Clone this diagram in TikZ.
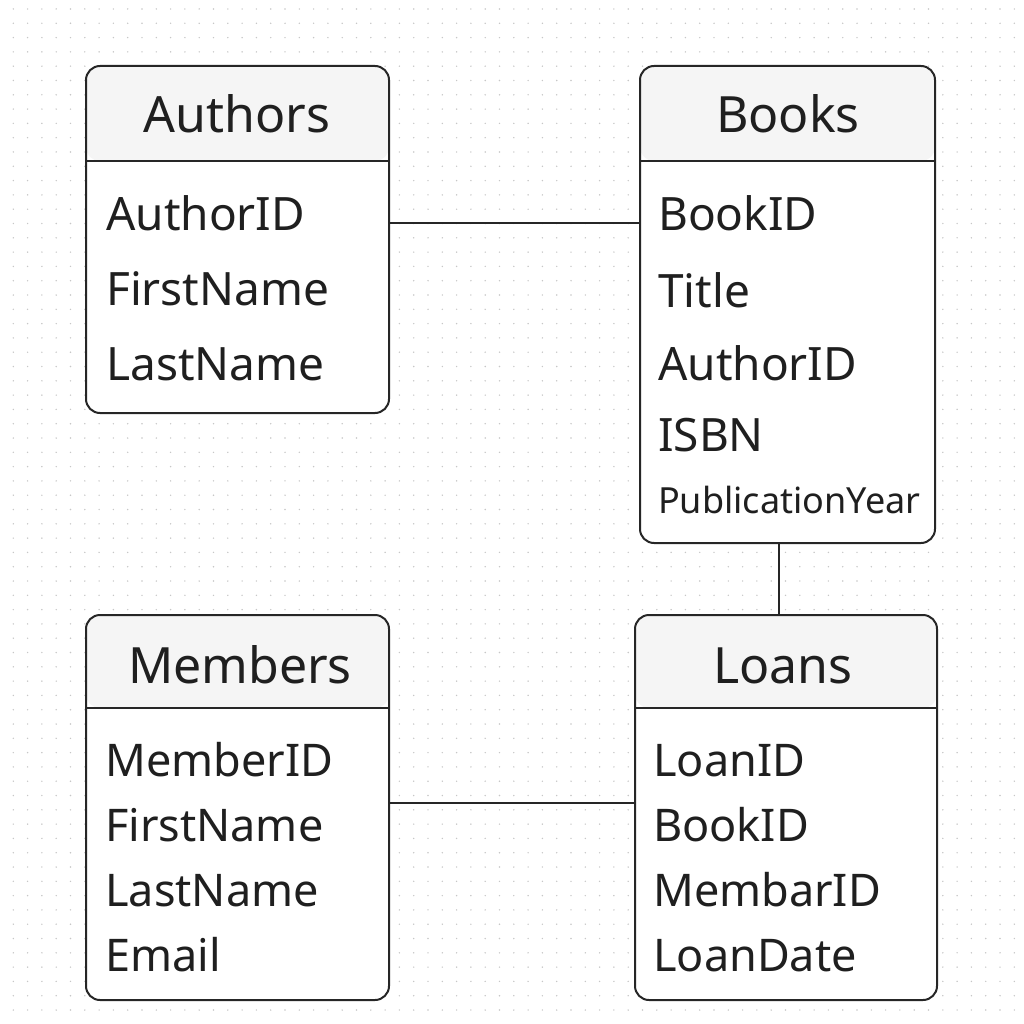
\documentclass[tikz,border=0pt]{standalone}
\usepackage{fontspec}
\setmainfont{Noto Sans}

\tikzset{
  tablebox/.style={draw=black!85, line width=2pt, rounded corners=14pt, fill=white,
    inner sep=0pt, outer sep=0pt, anchor=north west,
    path picture={
      \fill[black!4] (path picture bounding box.north west) rectangle ([yshift=-#1]path picture bounding box.north east);
      \draw[black!85, line width=2pt] ([yshift=-#1]path picture bounding box.north west) -- ([yshift=-#1]path picture bounding box.north east);
    }},
  tablebox/.default=95pt,
  headtext/.style={font=\fontsize{50}{56}\selectfont, text=black!88, anchor=base, inner sep=0pt},
  attrtext/.style={font=\fontsize{46}{52}\selectfont, text=black!88, anchor=base west, inner sep=0pt},
  link/.style={draw=black!85, line width=1.5pt},
}

\begin{document}
\begin{tikzpicture}[x=1pt,y=-1pt]

 \useasboundingbox (0,0) rectangle (1024,1024);
 % dotted background
 \foreach \i in {0,...,70}
  \foreach \j in {0,...,70}
   \fill[black!22] ({13.3+14.3*\i},{9+14.3*\j}) circle (0.8);

 % tables
 \node[tablebox, minimum width=303pt, minimum height=347pt] (authors) at (86,66) {};
 \node[tablebox, minimum width=295pt, minimum height=477pt] (books) at (640,66) {};
 \node[tablebox=93pt, minimum width=303pt, minimum height=385pt] (members) at (86,615) {};
 \node[tablebox=93pt, minimum width=302pt, minimum height=385pt] (loans) at (635,615) {};

 \node[headtext] (authorsH) at (237,133) {Authors};
 \node[headtext] (booksH) at (788,133) {Books};
 \node[headtext] (membersH) at (240,683) {Members};
 \node[headtext] (loansH) at (783,683) {Loans};

 % attributes
 \foreach \name [count=\k] in {AuthorID,FirstName,LastName}
  \node[attrtext] (authors-\k) at (106,{155+75*\k}) {\name};
 \foreach \name/\y [count=\k] in {BookID/230,Title/307,AuthorID/380,ISBN/451}
  \node[attrtext] (books-\k) at (658,\y) {\name};
 \node[attrtext, font=\fontsize{36}{40}\selectfont] (books-5) at (658,513) {PublicationYear};
 \foreach \name [count=\k] in {MemberID,FirstName,LastName,Email}
  \node[attrtext, font=\fontsize{45}{50}\selectfont] (members-\k) at (105,{711+65*\k}) {\name};
 \foreach \name [count=\k] in {LoanID,BookID,MembarID,LoanDate}
  \node[attrtext, font=\fontsize{45}{50}\selectfont] (loans-\k) at (653,{711+65*\k}) {\name};

 % relations
 \coordinate (ab) at ([yshift=16.5pt]authors.east);
 \draw[link] (ab) -- (ab -| books.west);
 \coordinate (bl) at ([xshift=-8.5pt]books.south);
 \draw[link] (bl) -- (bl |- loans.north);
 \coordinate (ml) at ([yshift=4.5pt]members.east);
 \draw[link] (ml) -- (ml -| loans.west);

\end{tikzpicture}
\end{document}
